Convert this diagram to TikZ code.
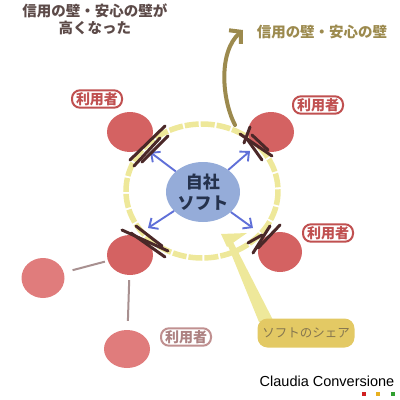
\documentclass[tikz,border=0pt]{standalone}
\usepackage{fontspec}
\setsansfont{Liberation Sans}
\newfontfamily\jp{Noto Sans CJK JP}
\usetikzlibrary{shapes.geometric,arrows.meta}
\definecolor{ringc}{HTML}{EEE89A}
\definecolor{userc}{HTML}{D46262}
\definecolor{userl}{HTML}{E07C7C}
\definecolor{labc}{HTML}{C05050}
\definecolor{labl}{HTML}{C09090}
\definecolor{softc}{HTML}{95ACD9}
\definecolor{softt}{HTML}{25324D}
\definecolor{bluea}{HTML}{6070D8}
\definecolor{olive}{HTML}{9C8A4E}
\definecolor{titlec}{HTML}{5C4A48}
\definecolor{callc}{HTML}{E3C964}
\definecolor{callt}{HTML}{857650}
\definecolor{crossc}{HTML}{4A2828}
\definecolor{greyl}{HTML}{A89090}
\definecolor{sqr}{HTML}{D02020}
\definecolor{sqo}{HTML}{E8B020}
\definecolor{sqg}{HTML}{30A030}
\tikzset{
  user/.style={ellipse, fill=userc, inner sep=0pt, minimum width=46pt, minimum height=40pt},
  userlight/.style={user, fill=userl},
  ulabel/.style={draw=labc, line width=2pt, fill=white, rounded corners=8pt, text=labc,
     font=\jp\bfseries\fontsize{14}{14}\selectfont, inner xsep=4pt, inner ysep=2pt},
  crossmark/.style={draw=crossc, line width=3pt, line cap=round},
  bluearrow/.style={draw=bluea, line width=1.9pt, -{Straight Barb[length=7pt,width=13pt]}},
  greyline/.style={draw=greyl, line width=2pt},
}
\begin{document}
\begin{tikzpicture}[x=1pt,y=-1pt]
\useasboundingbox (0,0) rectangle (400,400);
% title
\node[align=center, text=titlec, font=\jp\bfseries\fontsize{14.5}{17}\selectfont] (title) at (95,19) {信用の壁・安心の壁が\\高くなった};
\node[text=olive, font=\jp\bfseries\fontsize{14.5}{15}\selectfont] (wall) at (322,32) {信用の壁・安心の壁};
% ring
\draw[ringc, line width=5.5pt, dash pattern=on 14pt off 2pt] (202,191) ellipse [x radius=76, y radius=67];
% callout pointer
\fill[ringc] (226,241) -- (231,238) -- (273,320) -- (259,322) -- cycle;
\fill[ringc] (221,234) -- (247,233) -- (227,247) -- cycle;
% olive arrow
\coordinate (oa) at (235,125);
\coordinate (ob) at (243,30);
\draw[olive, line width=4pt, line cap=round, -{Straight Barb[length=8pt,width=18pt]}] (oa) .. controls (222,100) and (218,52) .. (ob);
% users
\node[user] (ul) at (130,132) {};
\node[user] (ur) at (271,132) {};
\node[user, minimum width=44pt] (lr) at (280,252) {};
\node[user] (ll) at (130,255) {};
\node[userlight, minimum width=43pt] (fl) at (43,278) {};
\node[userlight, minimum height=38pt] (bt) at (127,349) {};
\draw[greyline, shorten <=3pt, shorten >=9pt] (ll) -- (fl);
\draw[greyline, shorten <=5pt, shorten >=9pt] (ll) -- (bt);
% center
\node[ellipse, fill=softc, minimum width=74pt, minimum height=60pt, inner sep=0pt, align=center,
  text=softt, font=\jp\bfseries\fontsize{17}{21}\selectfont] (soft) at (203,192) {自社\\ソフト};
\coordinate (t1) at (150,152);
\coordinate (t2) at (250,151);
\coordinate (t3) at (253,228);
\coordinate (t4) at (148,228);
\draw[bluearrow] (soft) -- (t1);
\draw[bluearrow] (soft) -- (t2);
\draw[bluearrow] (soft) -- (t3);
\draw[bluearrow] (soft) -- (t4);
% crossing marks
\draw[crossmark] (130,160) -- (165,126);
\draw[crossmark] (134,166) -- (160,138);
\draw[crossmark] (142,162) -- (168,136);
\draw[crossmark] (240,134) -- (272,156);
\draw[crossmark] (250,127) -- (244,143);
\draw[crossmark] (247,139) -- (262,160);
\draw[crossmark] (252,135) -- (268,150);
\draw[crossmark] (253,253) -- (270,226);
\draw[crossmark] (258,248) -- (280,225);
\draw[crossmark] (248,243) -- (262,235);
\draw[crossmark] (122,230) -- (168,251);
\draw[crossmark] (131,233) -- (165,257);
\draw[crossmark] (136,226) -- (162,246);
% labels
\node[ulabel] (lul) at (97,99) {利用者};
\node[ulabel] (lur) at (318,105) {利用者};
\node[ulabel] (llr) at (328,233) {利用者};
\node[ulabel, draw=labl, text=labl!90!black] (lbt) at (186,337) {利用者};
% callout
\node[fill=callc, rounded corners=10pt, minimum width=97pt, minimum height=29pt, text=callt,
  font=\jp\fontsize{12.5}{13}\selectfont] (share) at (306,333) {ソフトのシェア};
% brand
\node[font=\sffamily\fontsize{14.5}{15}\selectfont, text=black] (brand) at (327,381) {Claudia Conversione};
\fill[sqr] (362,392) rectangle +(4,4);
\fill[sqo] (376,392) rectangle +(4,4);
\fill[sqg] (391,392) rectangle +(4,4);
\end{tikzpicture}
\end{document}
